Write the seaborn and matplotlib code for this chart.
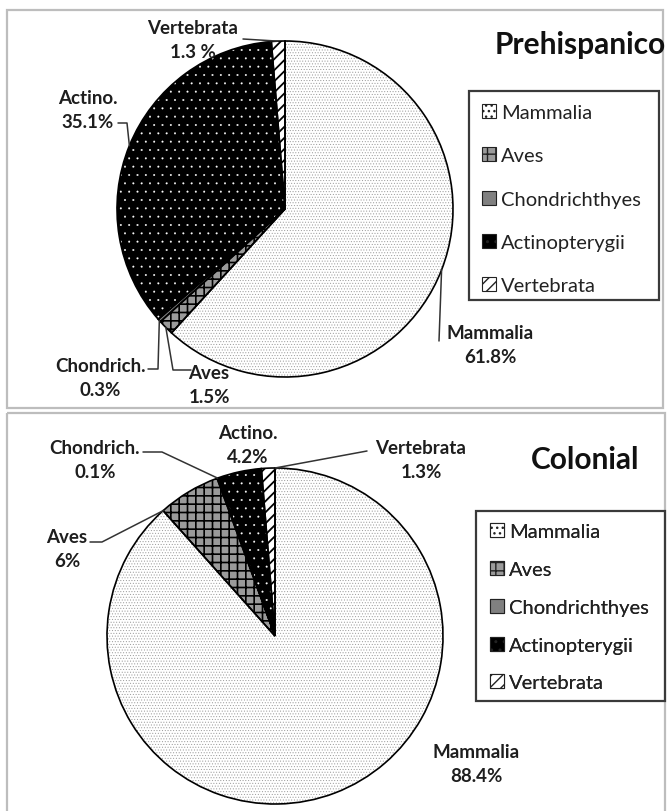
import numpy as np
import matplotlib
matplotlib.use("Agg")
import matplotlib.pyplot as plt
import matplotlib.patches as mpatches
import seaborn as sns

# ---------------- data ----------------
categories = ["Mammalia", "Aves", "Chondrichthyes", "Actinopterygii", "Vertebrata"]
short_names = ["Mammalia", "Aves", "Chondrich.", "Actino.", "Vertebrata"]
prehispanico_values = [61.8, 1.5, 0.3, 35.1, 1.3]
prehispanico_pct_text = ["61.8%", "1.5%", "0.3%", "35.1%", "1.3 %"]
colonial_values = [88.4, 6.0, 0.1, 4.2, 1.3]
colonial_pct_text = ["88.4%", "6%", "0.1%", "4.2%", "1.3%"]
panel_titles = ["Prehispanico", "Colonial"]

# ---------------- style ----------------
sns.set_theme(style="white")
plt.rcParams['font.family'] = ['Lato', 'DejaVu Sans']
plt.rcParams['hatch.linewidth'] = 1.0

face_cols = ['white', '#9a9a9a', '#808080', 'black', 'white']
hatches = ['......', '++', '', '..', '///']
hatch_cols = ['#9a9a9a', 'black', '#808080', 'white', 'black']
hatch_lws = [0.4, 1.2, 1.0, 0.2, 1.3]

W, H = 668, 812
fig = plt.figure(figsize=(W / 100, H / 100), dpi=100)

ov = fig.add_axes([0, 0, 1, 1], zorder=5)
ov.set_xlim(0, W)
ov.set_ylim(H, 0)
ov.axis('off')


def px_axes(cx, cy, r):
    return [(cx - r) / W, 1 - (cy + r) / H, 2 * r / W, 2 * r / H]


def set_hlw(patch, lw):
    if hasattr(patch, 'set_hatch_linewidth'):
        patch.set_hatch_linewidth(lw)


panels = [
    dict(values=prehispanico_values, pct=prehispanico_pct_text, title=panel_titles[0],
         center=(285, 210), r=168, frame=(7, 11, 656, 398),
         title_xy=(495, 45), legbox=(469, 92, 190, 209), leg_anchor=(482, 105), legspace=1.3,
         label_xy=[(490, 346), (209, 386), (100, 379), (88, 110), (193, 41)],
         leader=[[(439, 342)], [(191, 371), (173, 371)], [(148, 370), (158, 370)],
                 [(118, 124), (127, 124)], [(243, 40)]],
         frac=[0.5, 0.5, 0.5, 0.5, 0.5]),
    dict(values=colonial_values, pct=colonial_pct_text, title=panel_titles[1],
         center=(275, 637), r=168, frame=(7, 414, 658, 400),
         title_xy=(531, 460), legbox=(476, 512, 189, 190), leg_anchor=(490, 524), legspace=1.03,
         label_xy=[(476, 765), (67, 550), (95, 461), (248, 446), (421, 461)],
         leader=[None, [(90, 543), (102, 543)], [(143, 453), (162, 453)], None, [(367, 452)]],
         frac=[0.5, 0.0, 0.5, 0.5, 1.0]),
]

for p in panels:
    # panel frame
    fx, fy, fw, fh = p['frame']
    ov.add_patch(mpatches.Rectangle((fx, fy), fw, fh, fill=False, ec='#bdbdbd', lw=1.6))

    ax = fig.add_axes(px_axes(*p['center'], p['r']), zorder=1)
    vals = p['values']
    # hatched fill layer
    wedges, _ = ax.pie(vals, startangle=90, counterclock=False, radius=1,
                       wedgeprops=dict(linewidth=0))
    for w, fc, hc, ht, hl in zip(wedges, face_cols, hatch_cols, hatches, hatch_lws):
        w.set_facecolor(fc)
        w.set_edgecolor(hc)
        w.set_hatch(ht)
        w.set_linewidth(0)
        set_hlw(w, hl)
    # outline layer
    ax.pie(vals, startangle=90, counterclock=False, radius=1,
           wedgeprops=dict(fill=False, edgecolor='black', linewidth=1.2))
    ax.set_xlim(-1, 1)
    ax.set_ylim(-1, 1)
    ax.set_aspect('auto')
    ax.axis('off')

    # labels + leader lines
    for i, (nm, pt) in enumerate(zip(short_names, p['pct'])):
        lx, ly = p['label_xy'][i]
        ov.text(lx, ly, f"{nm}\n{pt}", ha='center', va='center', fontsize=13.5,
                fontweight='bold', color='#1e1e1e', linespacing=1.5)
        if p['leader'][i] is not None:
            w = wedges[i]
            ang = np.deg2rad(w.theta1 + (w.theta2 - w.theta1) * (1 - p['frac'][i]))
            disp = ax.transData.transform((np.cos(ang), np.sin(ang)))
            axp = ov.transData.inverted().transform(disp)
            pts = p['leader'][i] + [tuple(axp)]
            xs, ys = zip(*pts)
            ov.plot(xs, ys, color='#333333', lw=1.1)

    # title
    ov.text(*p['title_xy'], p['title'], ha='left', va='center', fontsize=21.5,
            fontweight='bold', color='#111111')

    # legend box
    bx, by, bw, bh = p['legbox']
    ov.add_patch(mpatches.Rectangle((bx, by), bw, bh, fill=False, ec='#3a3a3a', lw=1.6))
    handles = []
    for fc, hc, ht, hl in zip(face_cols, hatch_cols, hatches, hatch_lws):
        h = mpatches.Patch(facecolor=fc, edgecolor=hc, hatch=ht if ht != '......' else '...', lw=0.8)
        set_hlw(h, hl)
        handles.append(h)
    leg = ov.legend(handles, categories, loc='upper left', bbox_to_anchor=p['leg_anchor'],
                    bbox_transform=ov.transData, frameon=False, fontsize=14.5,
                    handlelength=0.7, handleheight=0.7, handletextpad=0.25,
                    labelspacing=p['legspace'], borderpad=0, borderaxespad=0)
    for t in leg.get_texts():
        t.set_color('#222222')
    for lh in leg.legend_handles:
        lh.set_edgecolor('#222222')
    ov.add_artist(leg)

fig.savefig("out.png", dpi=100)
